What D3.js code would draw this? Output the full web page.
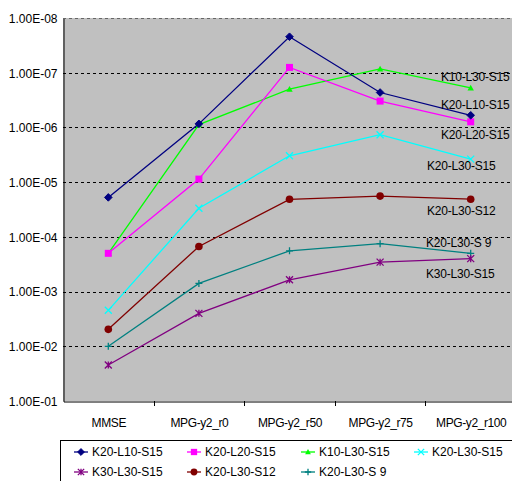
<!DOCTYPE html>
<html>
<head>
<meta charset="utf-8">
<script src="https://cdn.jsdelivr.net/npm/d3@7"></script>
<style>
html,body{margin:0;padding:0;background:#fff;}
svg{display:block;font-family:"Liberation Sans",Arial,sans-serif;}
</style>
</head>
<body>
<svg id="chart" width="512" height="481"></svg>
<script>
const categories = ["MMSE", "MPG-y2_r0", "MPG-y2_r50", "MPG-y2_r75", "MPG-y2_r100"];
const seriesNames = ["K20-L10-S15", "K20-L20-S15", "K10-L30-S15", "K20-L30-S15", "K30-L30-S15", "K20-L30-S12", "K20-L30-S 9"];
const sK20L10S15 = [1.9e-5, 8.6e-7, 2.2e-8, 2.3e-7, 6.0e-7];
const sK20L20S15 = [2.0e-4, 8.8e-6, 8.0e-8, 3.3e-7, 7.9e-7];
const sK10L30S15 = [2.0e-4, 8.9e-7, 2.0e-7, 8.5e-8, 1.9e-7];
const sK20L30S15 = [2.2e-3, 3.0e-5, 3.3e-6, 1.36e-6, 3.8e-6];
const sK30L30S15 = [2.2e-2, 2.5e-3, 6.1e-4, 2.9e-4, 2.5e-4];
const sK20L30S12 = [4.9e-3, 1.5e-4, 2.06e-5, 1.8e-5, 2.05e-5];
const sK20L30S9  = [1.0e-2, 7.1e-4, 1.8e-4, 1.33e-4, 2.0e-4];
const yTicks = [1e-8, 1e-7, 1e-6, 1e-5, 1e-4, 1e-3, 1e-2, 1e-1];

const seriesValues = [sK20L10S15, sK20L20S15, sK10L30S15, sK20L30S15, sK30L30S15, sK20L30S12, sK20L30S9];
const colors = ["#000080", "#FF00FF", "#00FF00", "#00FFFF", "#800080", "#800000", "#008080"];
const markers = ["diamond", "square", "triangle", "x", "star", "circle", "plus"];
// in-plot labels (series index -> position)
const labelPos = [
  {i:2, x:441, y:77},
  {i:0, x:441, y:105},
  {i:1, x:441, y:135},
  {i:3, x:427, y:166},
  {i:5, x:427, y:211},
  {i:6, x:426, y:243},
  {i:4, x:426, y:274}
];

const svg = d3.select("#chart");
const pLeft = 63, pRight = 516, pTop = 18, pBottom = 401;

const x = d3.scaleBand().domain(categories).range([pLeft, pRight]).padding(0);
const y = d3.scaleLog().domain([1e-8, 1e-1]).range([pTop, pBottom]);

svg.append("rect").attr("x", pLeft).attr("y", pTop).attr("width", pRight-pLeft).attr("height", pBottom-pTop).attr("fill", "#C0C0C0");

// gridlines
svg.append("g").selectAll("line").data(yTicks.slice(0, -1)).join("line")
  .attr("x1", pLeft).attr("x2", pRight)
  .attr("y1", d => Math.round(y(d)) + 0.5).attr("y2", d => Math.round(y(d)) + 0.5)
  .attr("stroke", (d,i) => i === 0 ? "#666" : "#000").attr("stroke-width", 1).attr("stroke-dasharray", "3,3");

function fmt(v) {
  const e = Math.round(Math.log10(v));
  const s = e < 0 ? "-" : "+";
  const a = Math.abs(e);
  return "1.00E" + s + (a < 10 ? "0" + a : a);
}

// y axis
const yAxis = d3.axisLeft(y).tickValues(yTicks).tickFormat(fmt).tickSize(0).tickPadding(6);
const gy = svg.append("g").attr("transform", `translate(${pLeft + 0.5},0.5)`).call(yAxis);
gy.select(".domain").attr("stroke", "#000");
gy.selectAll("text").attr("font-size", 12).attr("fill", "#000").attr("font-family", "Liberation Sans, Arial, sans-serif");

// x axis
const xAxis = d3.axisBottom(x).tickSize(0).tickPadding(17);
const gx = svg.append("g").attr("transform", `translate(0.5,${pBottom + 0.5})`).call(xAxis);
gx.select(".domain").attr("stroke", "#000");
gx.selectAll("text").attr("font-size", 12).attr("fill", "#000").attr("font-family", "Liberation Sans, Arial, sans-serif").attr("letter-spacing", "-0.4");
// category boundary ticks
svg.append("g").selectAll("line").data(categories.slice(1)).join("line")
  .attr("x1", d => Math.round(x(d)) + 0.5).attr("x2", d => Math.round(x(d)) + 0.5)
  .attr("y1", pBottom).attr("y2", pBottom + 5).attr("stroke", "#000");

function drawMarker(g, type, cx, cy, color, s) {
  s = s || 1;
  if (type === "diamond") {
    const r = 3.8*s;
    g.append("path").attr("d", `M${cx},${cy-r}L${cx+r},${cy}L${cx},${cy+r}L${cx-r},${cy}Z`).attr("fill", color).attr("stroke", color);
  } else if (type === "square") {
    const r = 3.5*s;
    g.append("rect").attr("x", cx-r).attr("y", cy-r).attr("width", 2*r).attr("height", 2*r).attr("fill", color);
  } else if (type === "triangle") {
    const r = 3.2*s;
    g.append("path").attr("d", `M${cx},${cy-r}L${cx+r},${cy+r*0.8}L${cx-r},${cy+r*0.8}Z`).attr("fill", color);
  } else if (type === "x") {
    const r = 3.5*s;
    g.append("path").attr("d", `M${cx-r},${cy-r}L${cx+r},${cy+r}M${cx-r},${cy+r}L${cx+r},${cy-r}`).attr("stroke", color).attr("stroke-width", 1.3);
  } else if (type === "star") {
    const r = 3.5*s;
    g.append("path").attr("d", `M${cx-r},${cy-r}L${cx+r},${cy+r}M${cx-r},${cy+r}L${cx+r},${cy-r}M${cx},${cy-r}L${cx},${cy+r}`).attr("stroke", color).attr("stroke-width", 1.3);
  } else if (type === "circle") {
    g.append("circle").attr("cx", cx).attr("cy", cy).attr("r", 3.8*s).attr("fill", color);
  } else if (type === "plus") {
    const r = 3.5*s;
    g.append("path").attr("d", `M${cx-r},${cy}L${cx+r},${cy}M${cx},${cy-r}L${cx},${cy+r}`).attr("stroke", color).attr("stroke-width", 1.3);
  }
}

const line = d3.line().x((d, i) => x(categories[i]) + x.bandwidth()/2).y(d => y(d));
const drawOrder = [6, 4, 5, 3, 2, 1, 0];
drawOrder.forEach(si => {
  const g = svg.append("g");
  g.append("path").datum(seriesValues[si]).attr("d", line).attr("fill", "none").attr("stroke", colors[si]).attr("stroke-width", 1.3);
  seriesValues[si].forEach((v, i) => drawMarker(g, markers[si], x(categories[i]) + x.bandwidth()/2, y(v), colors[si]));
});

// in-plot labels
svg.append("g").selectAll("text").data(labelPos).join("text")
  .attr("x", d => d.x).attr("y", d => d.y).attr("dy", "0.35em")
  .attr("font-size", 12).attr("letter-spacing", "-0.2").attr("fill", "#000")
  .text(d => seriesNames[d.i]);

// legend
svg.append("rect").attr("x", 60.5).attr("y", 440.5).attr("width", 470).attr("height", 60).attr("fill", "#fff").attr("stroke", "#000");
const legCols = [74, 187, 301, 414];
const legRows = [452, 472];
seriesNames.forEach((n, i) => {
  const lx = legCols[i % 4], ly = legRows[Math.floor(i / 4)];
  const g = svg.append("g");
  g.append("line").attr("x1", lx).attr("x2", lx + 14).attr("y1", ly).attr("y2", ly).attr("stroke", colors[i]).attr("stroke-width", 1.3);
  drawMarker(g, markers[i], lx + 7, ly, colors[i], 0.9);
  g.append("text").attr("x", lx + 18).attr("y", ly).attr("dy", "0.35em").attr("font-size", 12).attr("fill", "#000").text(n);
});
</script>
</body>
</html>
